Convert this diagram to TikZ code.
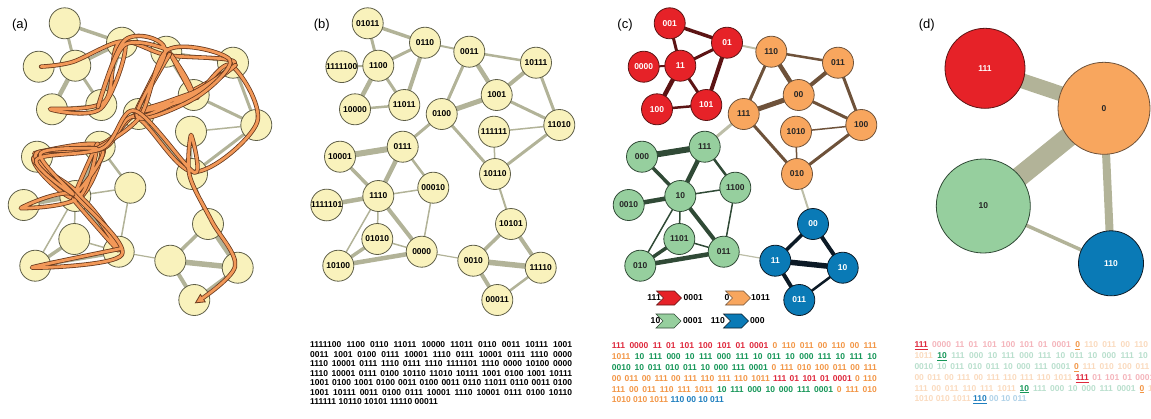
\documentclass[tikz,border=0pt]{standalone}
\usepackage{fontspec}
\setmainfont{Liberation Sans}
\usetikzlibrary{arrows.meta, positioning, calc, backgrounds, shapes.symbols}

\definecolor{vfill}{RGB}{249,242,188}
\definecolor{vline}{RGB}{95,95,72}
\definecolor{egrey}{RGB}{178,179,152}
\definecolor{trajo}{RGB}{242,152,88}
\definecolor{trajd}{RGB}{105,58,30}
\definecolor{cred}{RGB}{230,34,40}
\definecolor{corg}{RGB}{248,166,94}
\definecolor{cgrn}{RGB}{150,207,158}
\definecolor{cblu}{RGB}{10,122,182}
\definecolor{eR}{RGB}{92,20,20}
\definecolor{eO}{RGB}{110,82,58}
\definecolor{eG}{RGB}{48,74,54}
\definecolor{eB}{RGB}{12,26,38}
\colorlet{eX}{egrey!85}
\definecolor{sR}{RGB}{222,40,60}
\definecolor{sO}{RGB}{242,150,70}
\definecolor{sG}{RGB}{22,150,88}
\definecolor{sB}{RGB}{30,126,190}

\newcommand{\sqR}[1]{\textcolor{sR}{#1}}
\newcommand{\sqO}[1]{\textcolor{sO}{#1}}
\newcommand{\sqG}[1]{\textcolor{sG}{#1}}
\newcommand{\sqB}[1]{\textcolor{sB}{#1}}
\newcommand{\fdR}[1]{\textcolor{sR!35}{#1}}
\newcommand{\fdO}[1]{\textcolor{sO!35}{#1}}
\newcommand{\fdG}[1]{\textcolor{sG!30}{#1}}
\newcommand{\fdB}[1]{\textcolor{sB!35}{#1}}
\newcommand{\hit}[2]{\textcolor{#1}{\underline{#2}}}

% one piece of the walk: outline first, then the orange core
\newcommand{\trajseg}[4]{%
  \gdef\trajpts{}%
  \foreach \k in {#3,...,#4} {\xdef\trajpts{\trajpts (t\k)}}%
  \edef\trajcmd{\noexpand\draw[trajline,#1] plot[smooth, tension=0.55] coordinates {\trajpts};
    \noexpand\draw[trajfill,#2] plot[smooth, tension=0.55] coordinates {\trajpts};}%
  \trajcmd}

\tikzset{
  vert/.style={circle, minimum size=31pt, inner sep=0pt, line width=0.8pt, font=\fontsize{8.5}{9}\selectfont\bfseries},
  yel/.style={vert, draw=vline, fill=vfill},
  redv/.style={vert, draw=eR, fill=cred, text=white},
  orgv/.style={vert, draw=eO, fill=corg, text=black!85},
  grnv/.style={vert, draw=eG, fill=cgrn, text=black!85},
  bluv/.style={vert, draw=eB, fill=cblu, text=white},
  panel/.style={font=\fontsize{13}{14}\selectfont},
  seq/.style={anchor=west, inner sep=0pt, font=\fontsize{8.5}{9}\selectfont\bfseries},
  legtxt/.style={inner sep=0pt, font=\fontsize{8.6}{9}\selectfont\bfseries},
  chev/.style={signal, signal from=west, signal to=east, minimum width=25pt, minimum height=14pt, inner sep=0pt, line width=0.6pt},
  trajline/.style={trajd, line width=4.4pt, line cap=round, line join=round},
  trajfill/.style={trajo, line width=2.8pt, line cap=round, line join=round},
}

\def\vlist{01011,0110,0011,10111,1111100,1100,1001,10000,11011,0100,11010,111111,0111,10001,10110,00010,1110,1111101,10101,01010,0000,0010,10100,11110,00011}

\begin{document}
\begin{tikzpicture}[x=1pt, y=-1pt]
\useasboundingbox (0,0) rectangle (1151,418);

% layout shared by (a), (b) and (c)
\foreach \x/\y/\n in {367.7/23.3/01011, 425/42.7/0110, 469.3/51.7/0011, 536/62.7/10111,
  341.7/66.7/1111100, 378.3/65.7/1100, 496.7/95/1001, 355/109.3/10000, 404.3/105/11011,
  441.7/114/0100, 559.3/125/11010, 494/131.7/111111, 402.7/146.7/0111, 340/156.7/10001,
  495/174/10110, 433.3/187.7/00010, 378.3/196/1110, 326.7/205/1111101, 511/224/10101,
  377.3/239/01010, 421.7/251.7/0000, 473.3/260.7/0010, 338.3/265.7/10100,
  540.7/267.7/11110, 497.3/300/00011}
  \coordinate (p\n) at (\x,\y);

% (a)
\node[panel] (la) at (20,25) {(a)};
\foreach \n in \vlist
  \node[yel] (a-\n) at ([xshift=-303pt]p\n) {};

% (b)
\node[panel] (lb) at (321.7,25) {(b)};
\foreach \n in \vlist
  \node[yel] (b-\n) at (p\n) {\n};

% (c)
\node[panel] (lc) at (625,25) {(c)};
\foreach \n/\l/\s in {01011/001/redv, 0110/01/redv, 1111100/0000/redv, 1100/11/redv,
  10000/100/redv, 11011/101/redv, 0011/110/orgv, 10111/011/orgv, 1001/00/orgv,
  0100/111/orgv, 11010/100/orgv, 111111/1010/orgv, 10110/010/orgv, 0111/111/grnv,
  10001/000/grnv, 1110/10/grnv, 00010/1100/grnv, 1111101/0010/grnv, 01010/1101/grnv,
  0000/011/grnv, 10100/010/grnv, 10101/00/bluv, 0010/11/bluv, 11110/10/bluv, 00011/011/bluv}
  \node[\s] (c-\n) at ([xshift=302pt]p\n) {\l};

% edges
\begin{scope}[on background layer]
\foreach \u/\v/\w/\k in {01011/0110/3.5/R, 01011/1100/3/R, 0110/1100/3/R, 0110/11011/4/R,
  0110/0011/2/X, 1111100/1100/2/R, 1100/10000/4.5/R, 1100/11011/3/R, 10000/11011/2.5/R,
  0011/10111/2.5/O, 0011/1001/4.5/O, 0011/0100/3/O, 10111/1001/4/O, 10111/11010/3/O,
  0100/1001/5/O, 1001/11010/3/O, 0100/0111/3/X, 0100/10110/3/O, 111111/11010/1.5/O,
  111111/10110/1.5/O, 11010/10110/3/O, 0111/10001/6/G, 0111/1110/4.5/G, 0111/00010/2.5/G,
  10001/1110/3.5/G, 1110/1111101/4.5/G, 1110/00010/1.5/G, 1110/01010/1.5/G, 1110/0000/4/G,
  1110/10100/1.5/G, 00010/0000/1.5/G, 01010/10100/3.5/G, 01010/0000/1.5/G, 10100/0000/4.5/G,
  0000/0010/1.2/X, 10110/10101/2/X, 10101/0010/3.5/B, 10101/11110/4/B, 0010/11110/5.5/B,
  0010/00011/4/B, 00011/11110/2.5/B}
{
  \draw[egrey, line width=\w] (a-\u.center) -- (a-\v.center);
  \draw[egrey, line width=\w] (b-\u.center) -- (b-\v.center);
  \draw[e\k, line width=\w] (c-\u.center) -- (c-\v.center);
}
\end{scope}

% the walk in (a)
\foreach \n [count=\i] in {1111100,1100,0110,11011,10000,11011,0110,0011,10111,1001,
  0011,1001,0100,0111,10001,1110,0111,10001,0111,1110,0000,1110,10001,0111,1110,0111,
  1110,1111101,1110,0000,10100,0000,1110,10001,0111,0100,10110,11010,10111,1001,0100,
  1001,10111,1001,0100,1001,0100,0011,0100,0011,0110,11011,0110,0011,0100,1001,10111,
  0011,0100,0111,10001,1110,10001,0111,0100,10110,111111,10110,10101,11110,00011}
  \coordinate (t\i) at ($(a-\n)+({3.5*sin(\i*137)},{3.5*cos(\i*91)})$);
\trajseg{}{}{1}{10}
\trajseg{}{}{10}{20}
\trajseg{}{}{20}{30}
\trajseg{}{}{30}{40}
\trajseg{}{}{40}{50}
\trajseg{}{}{50}{60}
\trajseg{-{Triangle[length=10pt, width=10pt, line width=0.8pt, fill=trajo]}}{shorten >=8pt}{60}{71}

% sequence of (b)
\foreach \y/\t in {345/{1111100 1100 0110 11011 10000 11011 0110 0011 10111 1001},
  354.5/{0011 1001 0100 0111 10001 1110 0111 10001 0111 1110 0000},
  364/{1110 10001 0111 1110 0111 1110 1111101 1110 0000 10100 0000},
  373.5/{1110 10001 0111 0100 10110 11010 10111 1001 0100 1001 10111},
  383/{1001 0100 1001 0100 0011 0100 0011 0110 11011 0110 0011 0100},
  392.5/{1001 10111 0011 0100 0111 10001 1110 10001 0111 0100 10110}}
  \node[seq] at (310,\y) {\makebox[262pt][s]{\t}};
\node[seq] (sb7) at (310,402) {111111 10110 10101 11110 00011};

% legend of (c)
\node[chev, fill=cred, draw=eR] (k1) at (669,298) {};
\node[chev, fill=corg, draw=eO] (k2) at (738,298) {};
\node[chev, fill=cgrn, draw=eG] (k3) at (668.5,321) {};
\node[chev, fill=cblu, draw=eB] (k4) at (736,321) {};
\node[legtxt, anchor=east] (k1a) at (661,298) {111};
\node[legtxt, anchor=west] (k1b) at (683.5,298) {0001};
\node[legtxt, anchor=east] (k2a) at (729.5,298) {0};
\node[legtxt, anchor=west] (k2b) at (751,298) {1011};
\node[legtxt, anchor=east] (k3a) at (660.5,321) {10};
\node[legtxt, anchor=west] (k3b) at (683,321) {0001};
\node[legtxt, anchor=east] (k4a) at (725,321) {110};
\node[legtxt, anchor=west] (k4b) at (750,321) {000};

% sequence of (c)
\node[seq] (sc1) at (611.7,346) {\makebox[265pt][s]{\sqR{111 0000 11 01 101 100 101 01 0001} \sqO{0 110 011 00 110 00 111}}};
\node[seq] (sc2) at (611.7,356.8) {\makebox[265pt][s]{\sqO{1011} \sqG{10 111 000 10 111 000 111 10 011 10 000 111 10 111 10}}};
\node[seq] (sc3) at (611.7,367.6) {\makebox[265pt][s]{\sqG{0010 10 011 010 011 10 000 111 0001} \sqO{0 111 010 100 011 00 111}}};
\node[seq] (sc4) at (611.7,378.4) {\makebox[265pt][s]{\sqO{00 011 00 111 00 111 110 111 110 1011} \sqR{111 01 101 01 0001} \sqO{0 110}}};
\node[seq] (sc5) at (611.7,389.2) {\makebox[265pt][s]{\sqO{111 00 011 110 111 1011} \sqG{10 111 000 10 000 111 0001} \sqO{0 111 010}}};
\node[seq] (sc6) at (611.7,400) {\sqO{1010 010 1011} \sqB{110 00 10 011}};

% (d)
\node[panel] (ld) at (926.7,25) {(d)};
\node[redv, minimum size=80pt] (d-111) at (985,68.3) {111};
\node[orgv, minimum size=92pt] (d-0) at (1104,108.3) {0};
\node[grnv, minimum size=94pt] (d-10) at (983.3,206) {10};
\node[bluv, minimum size=65pt] (d-110) at (1111,263.3) {110};
\begin{scope}[on background layer]
\foreach \u/\v/\w in {111/0/15, 10/0/20, 0/110/8, 10/110/3.5}
  \draw[egrey, line width=\w] (d-\u.center) -- (d-\v.center);
\end{scope}

\begin{scope}
\clip (900,335) rectangle (1151,418);
\node[seq] (sd1) at (914.3,346) {\makebox[265pt][s]{\hit{sR}{111} \fdR{0000 11 01 101 100 101 01 0001} \hit{sO}{0} \fdO{110 011 00 110 00 111}}};
\node[seq] (sd2) at (914.3,356.8) {\makebox[265pt][s]{\fdO{1011} \hit{sG}{10} \fdG{111 000 10 111 000 111 10 011 10 000 111 10 111 10}}};
\node[seq] (sd3) at (914.3,367.6) {\makebox[265pt][s]{\fdG{0010 10 011 010 011 10 000 111 0001} \hit{sO}{0} \fdO{111 010 100 011 00 111}}};
\node[seq] (sd4) at (914.3,378.4) {\makebox[265pt][s]{\fdO{00 011 00 111 00 111 110 111 110 1011} \hit{sR}{111} \fdR{01 101 01 0001} \hit{sO}{0} \fdO{110}}};
\node[seq] (sd5) at (914.3,389.2) {\makebox[265pt][s]{\fdO{111 00 011 110 111 1011} \hit{sG}{10} \fdG{111 000 10 000 111 0001} \hit{sO}{0} \fdO{111 010}}};
\node[seq] (sd6) at (914.3,400) {\fdO{1010 010 1011} \hit{sB}{110} \fdB{00 10 011}};
\end{scope}
\end{tikzpicture}
\end{document}
